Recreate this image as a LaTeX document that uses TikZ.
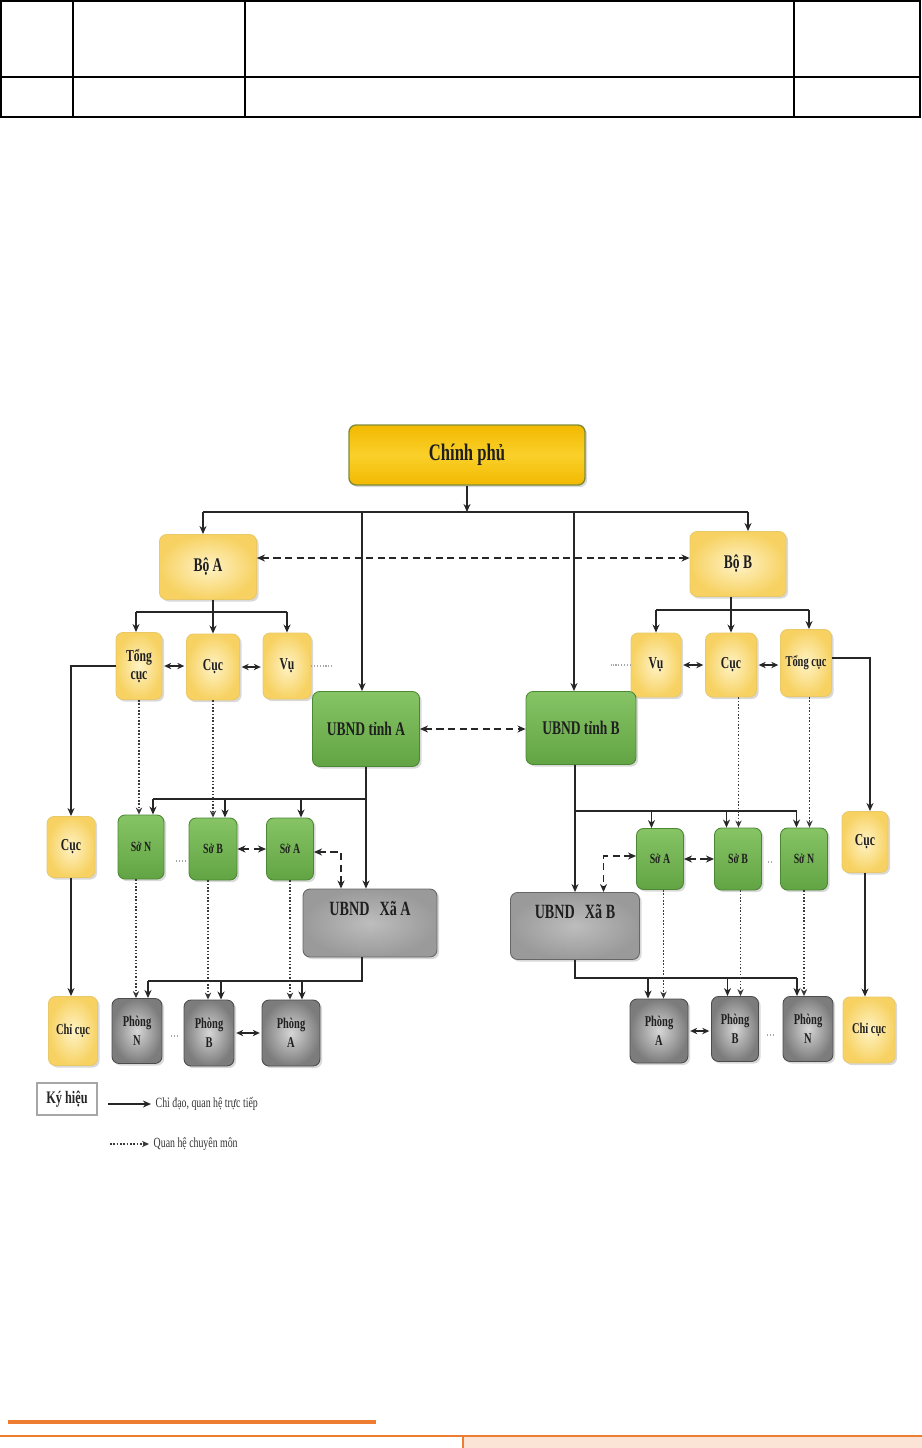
\documentclass[tikz,border=0pt]{standalone}
\usepackage{fontspec}
\setmainfont{Liberation Serif}
\newfontfamily\condfont[FakeStretch=0.7]{Liberation Serif}
\usetikzlibrary{arrows.meta,shadows}

\definecolor{linecol}{HTML}{262626}
\definecolor{orangeline}{HTML}{ED7D31}
\definecolor{peach}{HTML}{FBE4D5}
\definecolor{cpgold}{HTML}{F2B900}
\definecolor{cplight}{HTML}{FAD02A}
\definecolor{cpborder}{HTML}{7E8C3A}
\definecolor{yelin}{HTML}{FFF3C6}
\definecolor{yelout}{HTML}{F7D262}
\definecolor{yelborder}{HTML}{E9C867}
\definecolor{grntop}{HTML}{86C466}
\definecolor{grnbot}{HTML}{62A443}
\definecolor{grnborder}{HTML}{4C8834}
\definecolor{xain}{HTML}{BDBDBD}
\definecolor{xaout}{HTML}{9A9A9A}
\definecolor{phin}{HTML}{D6D6D6}
\definecolor{phout}{HTML}{7C7C7C}

\tikzset{
    box/.style={rounded corners=4pt, align=center, inner sep=1pt, text=black!88,
        drop shadow={shadow xshift=1.2pt, shadow yshift=-1.2pt, opacity=0.3}},
    cpbox/.style={box, draw=cpborder, line width=0.8pt, top color=cpgold, bottom color=cpgold,
        middle color=cplight, font=\condfont\bfseries\fontsize{13.5}{15}\selectfont},
    yelbox/.style={box, draw=yelborder, line width=0.5pt, shading=radial, inner color=yelin,
        outer color=yelout, font=\condfont\bfseries\fontsize{9.5}{10.5}\selectfont},
    grnbox/.style={box, draw=grnborder, line width=0.5pt, top color=grntop, bottom color=grnbot,
        font=\condfont\bfseries\fontsize{8}{9}\selectfont},
    xabox/.style={box, draw=gray!80!black, line width=0.5pt, shading=radial, inner color=xain,
        outer color=xaout, text height=8pt, text depth=16pt,
        font=\condfont\bfseries\fontsize{11.5}{13}\selectfont},
    phbox/.style={box, draw=gray!60!black, line width=0.5pt, shading=radial, inner color=phin,
        outer color=phout, font=\condfont\bfseries\fontsize{8.5}{11}\selectfont},
    tabline/.style={line width=1.3pt, black},
    hline/.style={line width=0.8pt, linecol},
    arr/.style={hline, -{Stealth[length=4.6pt,width=4pt]}},
    dblarr/.style={hline, {Stealth[length=4pt,width=3.6pt]}-{Stealth[length=4pt,width=3.6pt]},
        shorten <=1pt, shorten >=1pt},
    dasharr/.style={line width=0.9pt, linecol, dash pattern=on 4pt off 2.6pt,
        {Stealth[length=4.6pt,width=4pt]}-{Stealth[length=4.6pt,width=4pt]}},
    dotarr/.style={line width=0.9pt, gray!45!black, densely dotted,
        -{Stealth[length=4pt,width=3.6pt]}},
    dotmark/.style={line width=0.6pt, gray!70, densely dotted},
    lgtext/.style={anchor=west, inner sep=2.5pt, text=black!80,
        font=\condfont\fontsize{8}{9}\selectfont}
}

\begin{document}
\begin{tikzpicture}[x=0.02cm, y=-0.02cm]
    \useasboundingbox (0,0) rectangle (922,1448);

    % Table
    \draw[tabline] (1,1) rectangle (920,117);
    \draw[tabline] (1,77) -- (920,77);
    \draw[tabline] (73,1) -- (73,117);
    \draw[tabline] (245,1) -- (245,117);
    \draw[tabline] (794,1) -- (794,117);

    % Footer
    \fill[orangeline] (8,1420) rectangle (376,1424);
    \fill[peach] (463,1436) rectangle (922,1448);
    \draw[orangeline, line width=0.6pt] (0,1436) -- (922,1436);
    \draw[orangeline, line width=0.6pt] (463,1436) -- (463,1448);

    % Nodes
    \node[cpbox, minimum width=4.72cm, minimum height=1.2cm] (cp) at (467,455) {Chính phủ};

    \node[yelbox, minimum width=1.94cm, minimum height=1.3cm, font=\condfont\bfseries\fontsize{11}{12}\selectfont] (boA) at (208,567) {Bộ A};
    \node[yelbox, minimum width=1.92cm, minimum height=1.3cm, font=\condfont\bfseries\fontsize{11}{12}\selectfont] (boB) at (738,564) {Bộ B};

    \node[yelbox, minimum width=0.92cm, minimum height=1.34cm] (tcA) at (139,666) {Tổng\\cục};
    \node[yelbox, minimum width=1.06cm, minimum height=1.32cm] (cucA) at (213,667) {Cục};
    \node[yelbox, minimum width=0.96cm, minimum height=1.32cm] (vuA) at (287,666) {Vụ};

    \node[yelbox, minimum width=1.0cm, minimum height=1.28cm] (vuB) at (656,665) {Vụ};
    \node[yelbox, minimum width=1.02cm, minimum height=1.28cm] (cucB) at (731,665) {Cục};
    \node[yelbox, minimum width=1.02cm, minimum height=1.34cm, font=\condfont\bfseries\fontsize{8.5}{10}\selectfont] (tcB) at (806,663) {Tổng cục};

    \node[grnbox, minimum width=2.14cm, minimum height=1.5cm, font=\condfont\bfseries\fontsize{11}{12}\selectfont] (tinhA) at (366,729) {UBND tỉnh A};
    \node[grnbox, minimum width=2.2cm, minimum height=1.46cm, font=\condfont\bfseries\fontsize{11}{12}\selectfont] (tinhB) at (581,728) {UBND tỉnh B};

    \node[yelbox, minimum width=0.96cm, minimum height=1.22cm] (cucL) at (71,847) {Cục};
    \node[yelbox, minimum width=0.92cm, minimum height=1.22cm] (cucR) at (865,842) {Cục};
    \node[yelbox, minimum width=0.98cm, minimum height=1.38cm, font=\condfont\bfseries\fontsize{8.5}{10}\selectfont] (chicucL) at (73,1031) {Chỉ cục};
    \node[yelbox, minimum width=1.04cm, minimum height=1.32cm, font=\condfont\bfseries\fontsize{8.5}{10}\selectfont] (chicucR) at (869,1030) {Chỉ cục};

    \node[grnbox, minimum width=0.92cm, minimum height=1.28cm] (soNA) at (141,847) {Sở N};
    \node[grnbox, minimum width=0.96cm, minimum height=1.24cm] (soBA) at (213,849) {Sở B};
    \node[grnbox, minimum width=0.94cm, minimum height=1.24cm] (soAA) at (290,849) {Sở A};

    \node[grnbox, minimum width=0.94cm, minimum height=1.22cm] (soAB) at (660,859) {Sở A};
    \node[grnbox, minimum width=0.94cm, minimum height=1.24cm] (soBB) at (738,859) {Sở B};
    \node[grnbox, minimum width=0.94cm, minimum height=1.24cm] (soNB) at (804,859) {Sở N};

    \node[xabox, minimum width=2.68cm, minimum height=1.36cm] (xaA) at (370,923) {UBND\enspace Xã A};
    \node[xabox, minimum width=2.58cm, minimum height=1.34cm] (xaB) at (575,926) {UBND\enspace Xã B};

    \node[phbox, minimum width=1.0cm, minimum height=1.3cm] (phNA) at (137,1031) {Phòng\\N};
    \node[phbox, minimum width=1.0cm, minimum height=1.32cm] (phBA) at (209,1033) {Phòng\\B};
    \node[phbox, minimum width=1.16cm, minimum height=1.32cm] (phAA) at (291,1033) {Phòng\\A};

    \node[phbox, minimum width=1.16cm, minimum height=1.28cm] (phAB) at (659,1031) {Phòng\\A};
    \node[phbox, minimum width=0.94cm, minimum height=1.3cm] (phBB) at (735,1029) {Phòng\\B};
    \node[phbox, minimum width=1.0cm, minimum height=1.3cm] (phNB) at (808,1029) {Phòng\\N};

    % Legend
    \node[draw=gray!70, line width=0.6pt, minimum width=1.2cm, minimum height=0.64cm, text=black!85,
        font=\condfont\bfseries\fontsize{10}{11}\selectfont] (ky) at (67,1099) {Ký hiệu};
    \coordinate (lgA) at (108,1104);
    \node[lgtext] (lgTextA) at (151,1104) {Chỉ đạo, quan hệ trực tiếp};
    \coordinate (lgB) at (110,1144);
    \node[lgtext] (lgTextB) at (149,1144) {Quan hệ chuyên môn};

    % Edges: Chinh phu
    \coordinate (busCP) at (467,512);
    \draw[arr] (cp) -- (busCP);
    \draw[hline] ([xshift=-0.1cm]boA.north |- busCP) -- ([xshift=0.2cm]boB.north |- busCP);
    \draw[arr] ([xshift=-0.1cm]boA.north |- busCP) -- ([xshift=-0.1cm]boA.north);
    \draw[arr] ([xshift=0.2cm]boB.north |- busCP) -- ([xshift=0.2cm]boB.north);
    \draw[arr] ([xshift=-0.08cm]tinhA.north |- busCP) -- ([xshift=-0.08cm]tinhA.north);
    \draw[arr] ([xshift=-0.14cm]tinhB.north |- busCP) -- ([xshift=-0.14cm]tinhB.north);
    \draw[dasharr] ([yshift=0.18cm]boA.east) -- ([yshift=0.18cm]boA.east -| boB.west);

    % Edges: Bo A
    \coordinate (busBA) at (213,612);
    \draw[arr] (boA.south -| cucA) -- (cucA.north);
    \draw[hline] ([xshift=-0.06cm]tcA.north |- busBA) -- (vuA.north |- busBA);
    \draw[arr] ([xshift=-0.06cm]tcA.north |- busBA) -- ([xshift=-0.06cm]tcA.north);
    \draw[arr] (vuA.north |- busBA) -- (vuA.north);
    \draw[dblarr] (tcA.east) -- (tcA.east -| cucA.west);
    \draw[dblarr] (cucA.east) -- (cucA.east -| vuA.west);
    \draw[dotmark] (vuA.east) -- ++(20,0);

    % Edges: Bo B
    \coordinate (busBB) at (731,610);
    \draw[arr] (boB.south -| cucB) -- (cucB.north);
    \draw[hline] (vuB.north |- busBB) -- ([xshift=0.06cm]tcB.north |- busBB);
    \draw[arr] (vuB.north |- busBB) -- (vuB.north);
    \draw[arr] ([xshift=0.06cm]tcB.north |- busBB) -- ([xshift=0.06cm]tcB.north);
    \draw[dblarr] (vuB.east) -- (vuB.east -| cucB.west);
    \draw[dblarr] (cucB.east) -- (cucB.east -| tcB.west);
    \draw[dotmark] (vuB.west) -- ++(-20,0);

    % Edges: Tong cuc -> Cuc -> Chi cuc
    \draw[arr] (tcA.west) -| (cucL.north);
    \draw[arr] (cucL.south) -- (cucL.south |- chicucL.north);
    \draw[arr] ([yshift=0.1cm]tcB.east) -| ([xshift=0.1cm]cucR.north);
    \draw[arr] (cucR.south) -- (cucR.south |- chicucR.north);

    % Edges: tinh A <-> tinh B
    \draw[dasharr] (tinhA.east) -- (tinhA.east -| tinhB.west);

    % Edges: tinh A -> So, Xa
    \coordinate (busSA) at (366,799);
    \draw[arr] (tinhA.south) -- (tinhA.south |- xaA.north);
    \draw[hline] (tinhA.south |- busSA) -- ([xshift=0.24cm]soNA.north |- busSA);
    \draw[arr] ([xshift=0.24cm]soNA.north |- busSA) -- ([xshift=0.24cm]soNA.north);
    \draw[arr] ([xshift=0.24cm]soBA.north |- busSA) -- ([xshift=0.24cm]soBA.north);
    \draw[arr] ([xshift=0.22cm]soAA.north |- busSA) -- ([xshift=0.22cm]soAA.north);
    \draw[dotarr] (tcA.south) -- (tcA.south |- soNA.north);
    \draw[dotarr] (cucA.south) -- (cucA.south |- soBA.north);
    \draw[dasharr] (soBA.east) -- (soBA.east -| soAA.west);
    \draw[dasharr] ([yshift=-0.06cm]soAA.east) -| ([xshift=-0.58cm]xaA.north);
    \draw[dotmark] ([shift={(0.24cm,-0.28cm)}]soNA.east) -- ++(0.2cm,0);

    % Edges: Xa A -> Phong
    \coordinate (busXA) at (362,981);
    \draw[hline] ([xshift=-0.16cm]xaA.south) -- ([xshift=-0.16cm]xaA.south |- busXA)
        -- ([xshift=0.22cm]phNA.north |- busXA);
    \draw[arr] ([xshift=0.22cm]phNA.north |- busXA) -- ([xshift=0.22cm]phNA.north);
    \draw[arr] ([xshift=0.24cm]phBA.north |- busXA) -- ([xshift=0.24cm]phBA.north);
    \draw[arr] ([xshift=0.22cm]phAA.north |- busXA) -- ([xshift=0.22cm]phAA.north);
    \draw[dotarr] ([xshift=-0.1cm]soNA.south) -- ([xshift=-0.1cm]soNA.south |- phNA.north);
    \draw[dotarr] ([xshift=-0.1cm]soBA.south) -- ([xshift=-0.1cm]soBA.south |- phBA.north);
    \draw[dotarr] (soAA.south) -- (soAA.south |- phAA.north);
    \draw[dblarr] (phBA.east) -- (phBA.east -| phAA.west);
    \draw[dotmark] ([shift={(0.18cm,-0.1cm)}]phNA.east) -- ++(0.12cm,0);
    \draw[dotmark] ([yshift=-0.02cm]phAA.east) -- ++(0.04cm,0);

    % Edges: tinh B -> So, Xa
    \coordinate (busSB) at (575,811);
    \draw[arr] ([xshift=-0.12cm]tinhB.south) -- ([xshift=-0.12cm]tinhB.south |- xaB.north);
    \draw[hline] ([xshift=-0.12cm]tinhB.south |- busSB) -- ([xshift=-0.15cm]soNB.north |- busSB);
    \draw[arr] ([xshift=-0.17cm]soAB.north |- busSB) -- ([xshift=-0.17cm]soAB.north);
    \draw[arr] ([xshift=-0.23cm]soBB.north |- busSB) -- ([xshift=-0.23cm]soBB.north);
    \draw[arr] ([xshift=-0.15cm]soNB.north |- busSB) -- ([xshift=-0.15cm]soNB.north);
    \draw[dotarr] ([xshift=0.15cm]cucB.south) -- ([xshift=0.15cm]cucB.south |- soBB.north);
    \draw[dotarr] ([xshift=0.07cm]tcB.south) -- ([xshift=0.07cm]tcB.south |- soNB.north);
    \draw[dasharr] (soAB.east) -- (soAB.east -| soBB.west);
    \draw[dasharr] ([yshift=0.06cm]soAB.west) -| ([xshift=0.57cm]xaB.north);
    \draw[dotmark] ([shift={(0.12cm,-0.06cm)}]soBB.east) -- ++(0.1cm,0);

    % Edges: Xa B -> Phong
    \coordinate (busXB) at (575,978);
    \draw[hline] (xaB.south) -- (xaB.south |- busXB) -- ([xshift=-0.22cm]phNB.north |- busXB);
    \draw[arr] ([xshift=-0.22cm]phAB.north |- busXB) -- ([xshift=-0.22cm]phAB.north);
    \draw[arr] ([xshift=-0.15cm]phBB.north |- busXB) -- ([xshift=-0.15cm]phBB.north);
    \draw[arr] ([xshift=-0.22cm]phNB.north |- busXB) -- ([xshift=-0.22cm]phNB.north);
    \draw[dotarr] ([xshift=0.07cm]soAB.south) -- ([xshift=0.07cm]soAB.south |- phAB.north);
    \draw[dotarr] ([xshift=0.05cm]soBB.south) -- ([xshift=0.05cm]soBB.south |- phBB.north);
    \draw[dotarr] (soNB.south) -- (soNB.south |- phNB.north);
    \draw[dblarr] (phAB.east) -- (phAB.east -| phBB.west);
    \draw[dotmark] ([shift={(0.16cm,-0.12cm)}]phBB.east) -- ++(0.12cm,0);

    % Legend edges
    \draw[arr] (lgA) -- (lgTextA.west);
    \draw[dotarr, line width=1.2pt] (lgB) -- (lgTextB.west);
\end{tikzpicture}
\end{document}
